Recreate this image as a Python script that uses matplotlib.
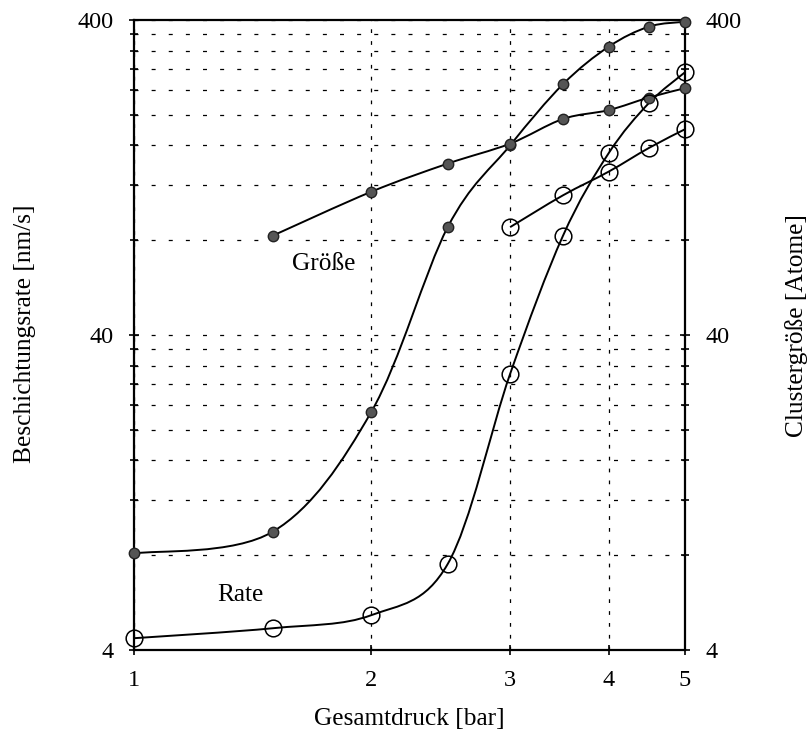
import numpy as np
import matplotlib
matplotlib.use('Agg')
import matplotlib.pyplot as plt
from matplotlib.path import Path
from matplotlib.patches import PathPatch
from matplotlib.ticker import FixedLocator, FixedFormatter, NullFormatter, NullLocator

plt.rcParams['font.family'] = 'Liberation Serif'

# Gesamtdruck [bar]
druck = [1, 1.5, 2, 2.5, 3, 3.5, 4, 4.5, 5]
druck_groesse = [1.5, 2, 2.5, 3, 3.5, 4, 4.5, 5]
druck_groesse_offen = [3, 3.5, 4, 4.5, 5]

# Beschichtungsrate [nm/s]
rate_gefuellt = [8.1, 9.5, 22.8, 88, 160, 250, 329, 381, 395]
rate_offen = [4.36, 4.69, 5.16, 7.5, 30.1, 82.5, 151, 218, 273]

# Clustergröße [Atome]
groesse_gefuellt = [82.7, 114, 140, 162, 194, 207, 227, 243]
groesse_offen = [88, 111, 132, 157, 180]

x_ticks = [1, 2, 3, 4, 5]
y_ticks = [4, 40, 400]
y_minor = [8, 12, 16, 20, 24, 28, 32, 36, 80, 120, 160, 200, 240, 280, 320, 360]


# Smooth curve through the points (Catmull-Rom in log space, drawn as bezier)
def smooth_curve(ax, xs, ys, **kw):
    pts = np.column_stack([np.log10(xs), np.log10(ys)])
    n = len(pts)
    verts = [pts[0]]
    codes = [Path.MOVETO]
    for i in range(n - 1):
        a = pts[max(i - 1, 0)]
        b = pts[i]
        c = pts[i + 1]
        d = pts[min(i + 2, n - 1)]
        verts += [b + (c - a) / 6, c - (d - b) / 6, c]
        codes += [Path.CURVE4] * 3
    path = Path(10 ** np.array(verts), codes)
    ax.add_patch(PathPatch(path, fill=False, edgecolor='black', lw=1.4, **kw))


fig = plt.figure(figsize=(8.11, 7.35), dpi=100)
ax = fig.add_axes([134 / 811, 1 - 650 / 735, 551 / 811, 630 / 735])
ax.set_xscale('log')
ax.set_yscale('log')
ax.set_xlim(1, 5)
ax.set_ylim(4, 400)

ax.xaxis.set_major_locator(FixedLocator(x_ticks))
ax.xaxis.set_major_formatter(FixedFormatter([str(t) for t in x_ticks]))
ax.xaxis.set_minor_locator(NullLocator())
ax.yaxis.set_major_locator(FixedLocator(y_ticks))
ax.yaxis.set_major_formatter(FixedFormatter([str(t) for t in y_ticks]))
ax.yaxis.set_minor_locator(FixedLocator(y_minor))
ax.yaxis.set_minor_formatter(NullFormatter())

ax.grid(True, axis='y', which='both', color='black', lw=0.9, ls=(0, (3.2, 10.5)))
ax.grid(True, axis='x', which='major', color='black', lw=0.9, ls=(0, (3, 6.5)))

ax.tick_params(axis='both', which='major', direction='inout', length=7, width=1.2,
               labelsize=17.5, pad=11, right=True, labelright=True)
ax.tick_params(axis='y', which='minor', direction='inout', length=6, width=1.2, right=True)
for s in ax.spines.values():
    s.set_linewidth(1.6)

smooth_curve(ax, druck, rate_gefuellt)
smooth_curve(ax, druck, rate_offen)
smooth_curve(ax, druck_groesse, groesse_gefuellt)
smooth_curve(ax, druck_groesse_offen, groesse_offen)

ax.plot(druck, rate_gefuellt, 'o', ms=7.5, mfc='#555555', mec='#222222', mew=1, clip_on=False, zorder=5)
ax.plot(druck_groesse, groesse_gefuellt, 'o', ms=7.5, mfc='#555555', mec='#222222', mew=1, clip_on=False, zorder=5)
ax.plot(druck, rate_offen, 'o', ms=12, mfc='none', mec='black', mew=1.1, clip_on=False, zorder=5)
ax.plot(druck_groesse_offen, groesse_offen, 'o', ms=12, mfc='none', mec='black', mew=1.1, clip_on=False, zorder=5)

ax.text(1.74, 67, 'Größe', fontsize=18.3, ha='center', va='center')
ax.text(1.363, 6.0, 'Rate', fontsize=18.3, ha='center', va='center')

ax.set_xlabel('Gesamtdruck [bar]', fontsize=18.3, labelpad=12)
fig.text(25 / 811, 1 - 334 / 735, 'Beschichtungsrate [nm/s]', fontsize=18.3,
         rotation=90, ha='center', va='center')
fig.text(797 / 811, 1 - 326 / 735, 'Clustergröße [Atome]', fontsize=18.3,
         rotation=90, ha='center', va='center')

fig.savefig('out.png', dpi=100)
